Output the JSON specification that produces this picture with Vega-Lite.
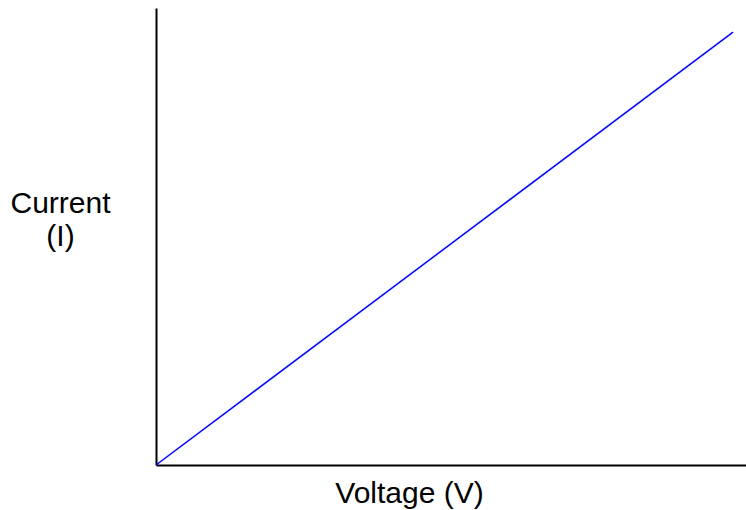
{
  "$schema": "https://vega.github.io/schema/vega-lite/v6.json",
  "autosize": {"type": "none"},
  "padding": {"left": 156, "top": 8, "right": 0, "bottom": 45},
  "width": 590,
  "height": 457,
  "background": "white",
  "config": {"view": {"stroke": null}, "font": "Liberation Sans"},
  "data": {"values": [
    {"voltage": 0, "current": 0},
    {"voltage": 97.8, "current": 94.7}
  ]},
  "mark": {"type": "line", "color": "#0000ff", "strokeWidth": 1.5},
  "encoding": {
    "x": {
      "field": "voltage", "type": "quantitative",
      "scale": {"domain": [0, 100], "nice": false, "zero": true},
      "axis": {
        "title": "Voltage (V)", "grid": false, "ticks": false, "labels": false,
        "domainColor": "black", "domainWidth": 2,
        "titleFont": "Liberation Sans", "titleFontSize": 30, "titleFontWeight": "normal", "titleColor": "black",
        "titleX": 253, "titleY": 37, "titleAlign": "center", "titleBaseline": "alphabetic"
      }
    },
    "y": {
      "field": "current", "type": "quantitative",
      "scale": {"domain": [0, 100], "nice": false, "zero": true},
      "axis": {
        "title": ["Current", "(I)"], "grid": false, "ticks": false, "labels": false,
        "domainColor": "black", "domainWidth": 2,
        "titleFont": "Liberation Sans", "titleFontSize": 30, "titleFontWeight": "normal", "titleColor": "black",
        "titleAngle": 0, "titleX": -96, "titleY": 204, "titleAlign": "center", "titleBaseline": "alphabetic",
        "titleLineHeight": 33
      }
    }
  }
}
